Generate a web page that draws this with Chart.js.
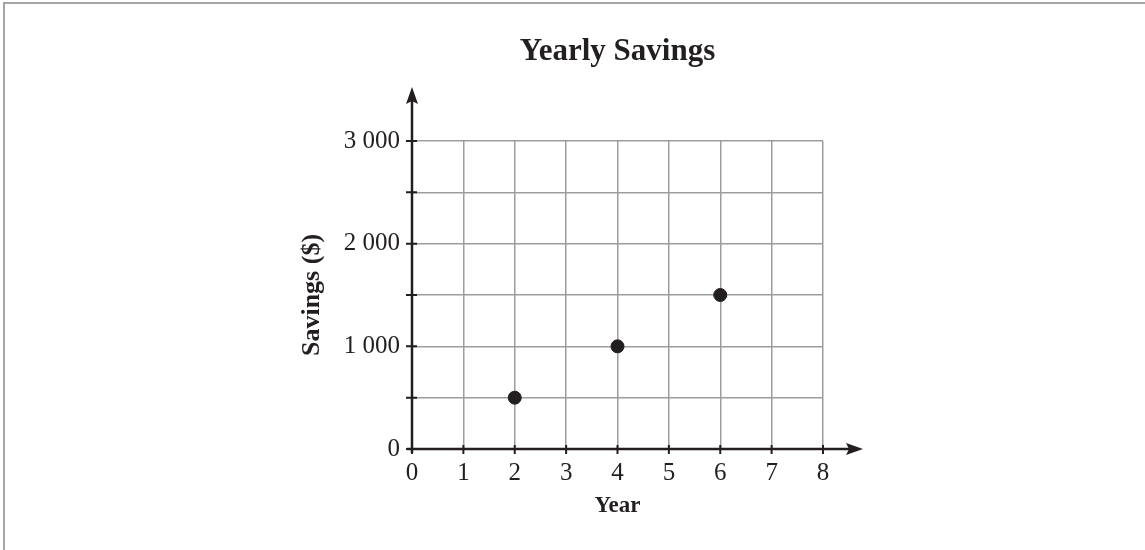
<!DOCTYPE html>
<html>
<head>
<meta charset="utf-8">
<title>Yearly Savings</title>
<script src="https://cdn.jsdelivr.net/npm/chart.js@4.4.1/dist/chart.umd.min.js"></script>
<style>
  body { margin: 0; background: #fff; }
  #wrap { width: 1145px; height: 550px; }
</style>
</head>
<body>
<div id="wrap"><canvas id="chart" width="1145" height="550"></canvas></div>
<script>
// data
const years = [2, 4, 6];
const savings = [500, 1000, 1500];
const xMin = 0, xMax = 8;
const yMin = 0, yMax = 3000;
const yTickLabels = ['0', '1 000', '2 000', '3 000'];

const ink = '#231f20';
const gridGray = '#9d9d9d';
const serif = '"Liberation Serif", "DejaVu Serif", serif';

// gray frame on top/left, then black axes with arrows and tick marks
const frameAndAxes = {
    id: 'frameAndAxes',
    beforeDraw(chart) {
        const ctx = chart.ctx;
        ctx.save();
        ctx.strokeStyle = '#a5a5a5';
        ctx.lineWidth = 2;
        ctx.beginPath();
        ctx.moveTo(4, 550);
        ctx.lineTo(4, 3);
        ctx.lineTo(1145, 3);
        ctx.stroke();
        ctx.restore();
    },
    afterDraw(chart) {
        const ctx = chart.ctx;
        const x = chart.scales.x, y = chart.scales.y;
        const x0 = x.getPixelForValue(xMin);
        const y0 = y.getPixelForValue(yMin);
        const xEnd = x.getPixelForValue(xMax);
        const yTop = y.getPixelForValue(yMax);

        ctx.save();
        ctx.strokeStyle = ink;
        ctx.fillStyle = ink;
        ctx.lineWidth = 2.5;

        // axis lines
        ctx.beginPath();
        ctx.moveTo(x0, y0 + 4);
        ctx.lineTo(x0, yTop - 40);
        ctx.moveTo(x0 - 5, y0);
        ctx.lineTo(xEnd + 28, y0);
        ctx.stroke();

        // tick marks
        ctx.lineWidth = 2;
        ctx.beginPath();
        y.ticks.forEach(t => {
            const py = y.getPixelForValue(t.value);
            ctx.moveTo(x0 - 6, py);
            ctx.lineTo(x0 + 5, py);
        });
        x.ticks.forEach(t => {
            const px = x.getPixelForValue(t.value);
            ctx.moveTo(px, y0 - 4);
            ctx.lineTo(px, y0 + 5);
        });
        ctx.stroke();

        // arrow heads
        ctx.beginPath();
        ctx.moveTo(x0, yTop - 54);
        ctx.lineTo(x0 + 6, yTop - 37);
        ctx.lineTo(x0, yTop - 40);
        ctx.lineTo(x0 - 6, yTop - 37);
        ctx.closePath();
        ctx.fill();

        ctx.beginPath();
        ctx.moveTo(xEnd + 40, y0);
        ctx.lineTo(xEnd + 23, y0 - 6);
        ctx.lineTo(xEnd + 26, y0);
        ctx.lineTo(xEnd + 23, y0 + 6);
        ctx.closePath();
        ctx.fill();
        ctx.restore();
    }
};

const points = years.map((yr, i) => ({ x: yr, y: savings[i] }));

new Chart(document.getElementById('chart'), {
    type: 'scatter',
    data: {
        datasets: [{
            data: points,
            backgroundColor: ink,
            borderColor: ink,
            pointRadius: 6.5,
            pointHoverRadius: 6.5
        }]
    },
    options: {
        responsive: false,
        animation: false,
        layout: { padding: { left: 297, right: 322, top: 0, bottom: 0 } },
        plugins: {
            legend: { display: false },
            tooltip: { enabled: false },
            title: {
                display: true,
                fullSize: false,
                text: 'Yearly Savings',
                color: ink,
                font: { family: serif, size: 31, weight: 'bold' },
                padding: { top: 33.6, bottom: 70.2 }
            }
        },
        scales: {
            x: {
                type: 'linear',
                min: xMin,
                max: xMax,
                afterFit: scale => { scale.height = 101; },
                ticks: {
                    stepSize: 1,
                    color: ink,
                    padding: 9,
                    font: { family: serif, size: 25 }
                },
                grid: { color: gridGray, lineWidth: 1.5, drawTicks: false },
                border: { display: false },
                title: {
                    display: true,
                    text: 'Year',
                    color: ink,
                    font: { family: serif, size: 23, weight: 'bold' },
                    padding: { top: 0, bottom: 30 }
                }
            },
            y: {
                type: 'linear',
                min: yMin,
                max: yMax,
                afterFit: scale => { scale.width = 115; },
                ticks: {
                    stepSize: 500,
                    color: ink,
                    padding: 12,
                    font: { family: serif, size: 25 },
                    callback: v => (v % 1000 === 0 ? yTickLabels[v / 1000] : '')
                },
                grid: { color: gridGray, lineWidth: 1.5, drawTicks: false },
                border: { display: false },
                title: {
                    display: true,
                    text: 'Savings ($)',
                    color: ink,
                    font: { family: serif, size: 26, weight: 'bold' },
                    padding: { top: 0, bottom: 0 }
                }
            }
        }
    },
    plugins: [frameAndAxes]
});
</script>
</body>
</html>
